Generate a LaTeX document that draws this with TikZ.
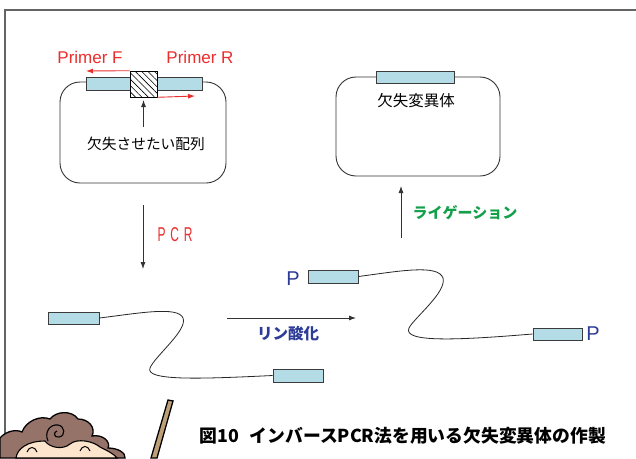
\documentclass[tikz,border=0pt]{standalone}
\usepackage{fontspec}
\setmainfont{Liberation Sans}
\newfontfamily\jp{Noto Sans CJK JP}
\usetikzlibrary{arrows.meta,patterns.meta}
\definecolor{barfill}{RGB}{180,220,230}
\definecolor{barline}{RGB}{60,60,60}
\definecolor{primred}{RGB}{235,45,45}
\definecolor{pblue}{RGB}{45,60,150}
\definecolor{liggreen}{RGB}{20,160,75}
\definecolor{framegray}{RGB}{100,100,100}
\definecolor{hair}{RGB}{150,115,105}
\definecolor{skin}{RGB}{253,228,205}
\definecolor{stick}{RGB}{190,160,120}
\tikzset{
  bar/.style={draw=barline, fill=barfill, line width=0.9pt, inner sep=0pt},
  plasmid/.style={draw=black!80, line width=0.9pt, rounded corners=20pt},
  flow/.style={draw=black!80, line width=0.8pt, -{Latex[length=7pt,width=5pt]}},
  primer/.style={draw=primred, line width=0.9pt, -{Latex[length=7pt,width=5pt]}},
  strand/.style={draw=black!85, line width=0.8pt},
}
\begin{document}
\begin{tikzpicture}[x=1pt,y=-1pt]
\useasboundingbox (0,0) rectangle (636,458);
\fill[white] (0,0) rectangle (636,458);

% outer frame
\draw[framegray, line width=1.2pt] (636,10) -- (5,10) -- (5,445);

% ---------- template plasmid ----------
\draw[plasmid] (60,82) rectangle (226,183);
\node[bar, minimum width=116pt, minimum height=13pt] (tbar) at (144,83.5) {};
\node[draw=black, line width=0.9pt, minimum width=27pt, minimum height=26pt, inner sep=0pt,
      preaction={fill=white},
      pattern={Lines[angle=-45,distance=4.5pt,line width=0.6pt]}] (del) at (143.5,84) {};
\coordinate (fend) at (86,71);
\coordinate (rend) at (195,96);
\draw[primer] (del.north west) -- (fend);
\draw[primer] (del.south east) -- (rend);
\node[primred, font=\fontsize{17}{17}\selectfont] (pf) at (90,57) {Primer F};
\node[primred, font=\fontsize{17}{17}\selectfont] (pr) at (200,57) {Primer R};
\node[font=\jp\fontsize{14.7}{15}\selectfont] (dellab) at (146,144) {欠失させたい配列};
\coordinate (deltip) at (143.5,100);
\draw[flow] (143.5,127) -- (deltip);

% ---------- PCR step ----------
\coordinate (pcrA) at (143,205);
\coordinate (pcrB) at (143,269);
\draw[flow] (pcrA) -- (pcrB);
\node[primred, font=\fontsize{20}{20}\selectfont] (pcr) at (175,235)
  {\scalebox{0.6}[1]{P\hspace{8pt}C\hspace{8pt}R}};

% ---------- linear PCR product ----------
\node[bar, minimum width=51pt, minimum height=12pt] (b1) at (73.5,318) {};
\node[bar, minimum width=50pt, minimum height=13pt] (b2) at (298,375.5) {};
\draw[strand] (b1.east) .. controls (140,313) and (178,306) .. (183,318)
  .. controls (188,330) and (155,356) .. (150,368)
  .. controls (145,381) and (200,379) .. (b2.west);

% ---------- phosphorylation ----------
\coordinate (phA) at (227,318);
\coordinate (phB) at (356,318);
\draw[flow] (phA) -- (phB);
\node[pblue, font=\jp\bfseries\fontsize{15.5}{16}\selectfont] (phos) at (288,334) {リン酸化};

% ---------- phosphorylated product ----------
\node[bar, minimum width=50pt, minimum height=13pt] (b3) at (333,276.5) {};
\node[bar, minimum width=49pt, minimum height=12pt] (b4) at (557.5,334) {};
\draw[strand] (b3.east) .. controls (400,271) and (438,264) .. (443,278)
  .. controls (447,292) and (414,318) .. (409,328)
  .. controls (402,343) and (460,340) .. (b4.west);
\node[pblue, font=\fontsize{20}{20}\selectfont] (p1) at (293,279) {P};
\node[pblue, font=\fontsize{20}{20}\selectfont] (p2) at (593,334) {P};

% ---------- ligation ----------
\coordinate (ligA) at (401,238);
\coordinate (ligB) at (401,186);
\draw[flow] (ligA) -- (ligB);
\node[liggreen, font=\jp\bfseries\fontsize{15}{16}\selectfont] (lig) at (465,213) {ライゲーション};

% ---------- deletion mutant ----------
\draw[plasmid] (336,77) rectangle (500,176);
\node[bar, minimum width=78pt, minimum height=12pt] (mbar) at (415,77) {};
\node[font=\jp\fontsize{15.5}{16}\selectfont] (mlab) at (416,101) {欠失変異体};

% ---------- caption ----------
\node[anchor=west, font=\jp\bfseries\fontsize{17.8}{18}\selectfont] (cap) at (196,436)
  {図10\hspace{0.6em}インバースPCR法を用いる欠失変異体の作製};

% ---------- teacher with pointer ----------
\draw[black, line width=1.3pt, fill=stick]
  (168,400) -- (173,401) -- (157,458) -- (151,458) -- cycle;
\draw[black, line width=1.3pt, fill=hair]
  (0,438) .. controls (6,431) and (16,429) .. (22,432)
  .. controls (26,421) and (40,415) .. (50,419)
  .. controls (56,411) and (72,410) .. (78,419)
  .. controls (89,419) and (96,428) .. (92,436)
  .. controls (103,434) and (111,442) .. (108,448)
  .. controls (118,448) and (126,453) .. (125,458)
  -- (0,458) -- cycle;
\draw[black, line width=1.1pt, fill=skin]
  (16,458) .. controls (17,449) and (27,441) .. (45,441)
  .. controls (50,448) and (63,450) .. (70,444)
  .. controls (77,438) and (93,441) .. (100,447)
  .. controls (108,451) and (114,454) .. (117,458) -- cycle;
% curl of the fringe
\draw[black, line width=1.1pt]
  (48,441) .. controls (44,432) and (50,424) .. (58,425)
  .. controls (65,426) and (66,436) .. (59,437)
  .. controls (54,438) and (53,432) .. (57,431);
% closed, smiling eyes
\draw[black, line width=1pt] (27,452) .. controls (29,446) and (35,446) .. (37,452);
\draw[black, line width=1pt] (80,451) .. controls (82,445) and (88,445) .. (90,451);
\end{tikzpicture}
\end{document}
